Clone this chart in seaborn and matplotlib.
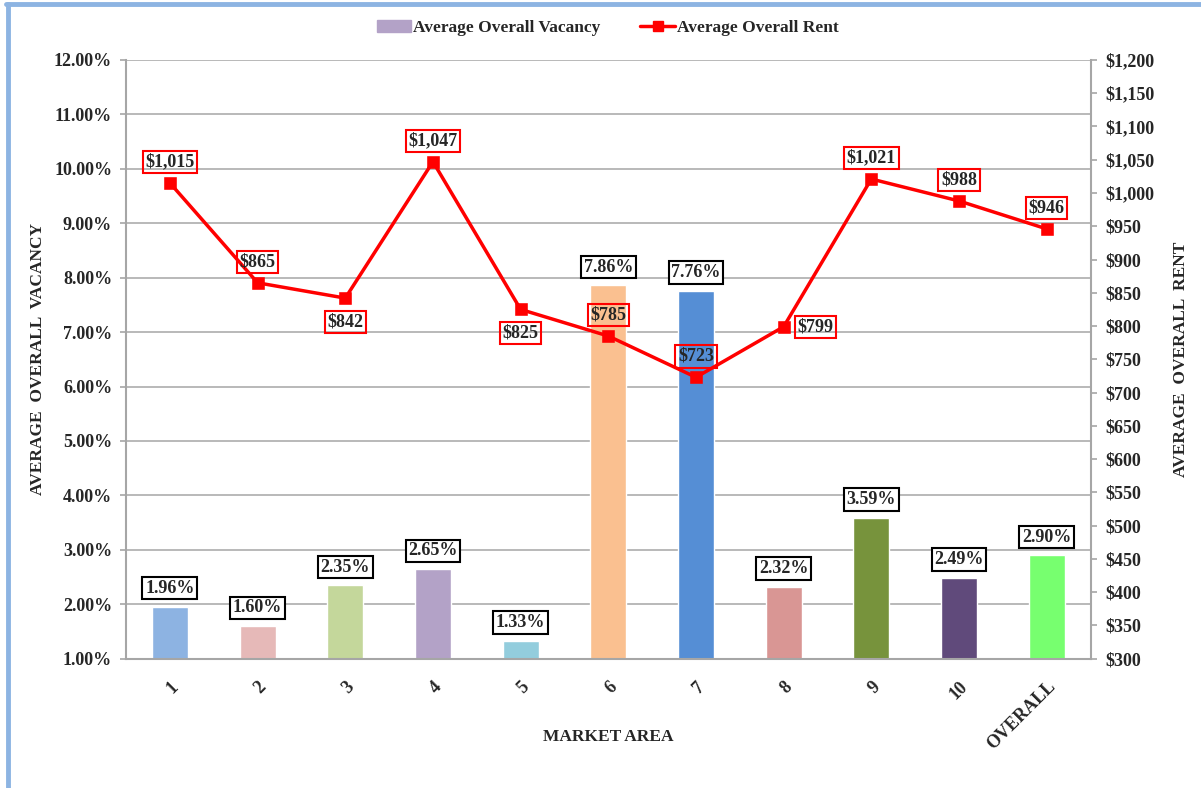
import numpy as np
import pandas as pd
import seaborn as sns
import matplotlib.pyplot as plt
from matplotlib.lines import Line2D
from matplotlib.patches import Patch
from matplotlib.ticker import FuncFormatter, MultipleLocator

areas = ["1", "2", "3", "4", "5", "6", "7", "8", "9", "10", "OVERALL"]
vacancy = [1.96, 1.60, 2.35, 2.65, 1.33, 7.86, 7.76, 2.32, 3.59, 2.49, 2.90]
rent = [1015, 865, 842, 1047, 825, 785, 723, 799, 1021, 988, 946]
bar_colors = ["#8DB3E2", "#E6B9B8", "#C4D79B", "#B3A2C7", "#93CDDD", "#FAC090",
              "#558ED5", "#D99694", "#77933C", "#604A7B", "#77FF6F"]
# where each rent label sits relative to its point
rent_pos = ["up", "up", "down", "up", "down", "up", "up", "right", "up", "up", "up"]

df = pd.DataFrame({"area": areas, "vacancy": vacancy, "rent": rent})

sns.set_style("white")
plt.rcParams["font.family"] = ["Liberation Serif", "DejaVu Serif"]
plt.rcParams["font.weight"] = "bold"

fig = plt.figure(figsize=(12.01, 7.88), dpi=100)
ax = fig.add_axes([0.105, 0.164, 0.803, 0.760])

sns.barplot(data=df, x="area", y="vacancy", hue="area", palette=bar_colors,
            legend=False, width=0.41, ax=ax, saturation=1, bottom=0)
ax.set_ylim(1, 12)
ax.set_xlim(-0.5, len(areas) - 0.5)
ax.yaxis.set_major_locator(MultipleLocator(1))
ax.yaxis.set_major_formatter(FuncFormatter(lambda v, p: f"{v:.2f}%"))
ax.grid(axis="y", color="#A6A6A6", lw=1.1)
ax.set_axisbelow(True)
for s in ["top", "right"]:
    ax.spines[s].set_visible(False)
for s in ["left", "bottom"]:
    ax.spines[s].set_color("#A6A6A6")
    ax.spines[s].set_linewidth(1.5)

ax.tick_params(axis="y", labelsize=13, length=4, color="#A6A6A6", width=1.2, pad=6)
ax.set_xticks(range(len(areas)))
ax.set_xticklabels(areas, rotation=45, ha="right", rotation_mode="anchor",
                   fontsize=13, fontweight="bold")
ax.tick_params(axis="x", length=0, pad=14)
ax.set_xticks(np.arange(len(areas) + 1) - 0.5, minor=True)
ax.tick_params(axis="x", which="minor", length=5, color="#A6A6A6", width=1.2)
for t in ax.get_yticklabels():
    t.set_fontweight("bold")

ax.set_xlabel("MARKET AREA", fontsize=12.5, fontweight="bold")
ax.xaxis.set_label_coords(0.5, -0.118)
ax.set_ylabel("AVERAGE  OVERALL  VACANCY", fontsize=12.5, fontweight="bold")
ax.yaxis.set_label_coords(-0.083, 0.5)

for i, v in enumerate(vacancy):
    ax.annotate(f"{v:.2f}%", (i, v), xytext=(0, 7), textcoords="offset points",
                ha="center", va="bottom", fontsize=13, fontweight="bold",
                bbox=dict(boxstyle="square,pad=0.15", fc="white", ec="black", lw=1.5))

ax2 = ax.twinx()
sns.pointplot(data=df, x="area", y="rent", color="red", markers="s",
              markersize=7, linewidth=2.5, ax=ax2, zorder=5)
ax2.set_ylim(300, 1200)
ax2.set_xlim(-0.5, len(areas) - 0.5)
ax2.yaxis.set_major_locator(MultipleLocator(50))
ax2.yaxis.set_major_formatter(FuncFormatter(lambda v, p: f"${v:,.0f}"))
ax2.tick_params(axis="y", labelsize=13, length=4, color="#A6A6A6", width=1.2, pad=7)
for t in ax2.get_yticklabels():
    t.set_fontweight("bold")
for s in ["top", "left", "bottom"]:
    ax2.spines[s].set_visible(False)
ax2.spines["right"].set_color("#A6A6A6")
ax2.spines["right"].set_linewidth(1.5)
ax2.set_ylabel("AVERAGE  OVERALL  RENT", fontsize=12.5, fontweight="bold", rotation=90)
ax2.yaxis.set_label_position("right")
ax2.yaxis.set_label_coords(1.086, 0.5)

offsets = {"up": (0, 15), "down": (0, -17), "right": (23, 0)}
for i, r in enumerate(rent):
    ax2.annotate(f"${r:,}", (i, r), xytext=offsets[rent_pos[i]], textcoords="offset points",
                 ha="center", va="center", fontsize=13, fontweight="bold",
                 bbox=dict(boxstyle="square,pad=0.15", fc="none", ec="red", lw=1.5), zorder=6)

handles = [Patch(color="#B3A2C7"),
           Line2D([0], [0], color="red", lw=2.5, marker="s", markersize=7)]
fig.legend(handles, ["Average Overall Vacancy", "Average Overall Rent"],
           loc="center", bbox_to_anchor=(0.506, 0.964), ncol=2, frameon=False,
           prop={"weight": "bold", "size": 12.5}, handlelength=2.0,
           handletextpad=0.1, columnspacing=2.3)

fig.add_artist(Line2D([0.0066, 0.0066], [0, 0.9943], color="#8DB4E2", lw=3.5))
fig.add_artist(Line2D([0.005, 1], [0.9943, 0.9943], color="#8DB4E2", lw=3.5))

fig.savefig("out.png", dpi=100)
